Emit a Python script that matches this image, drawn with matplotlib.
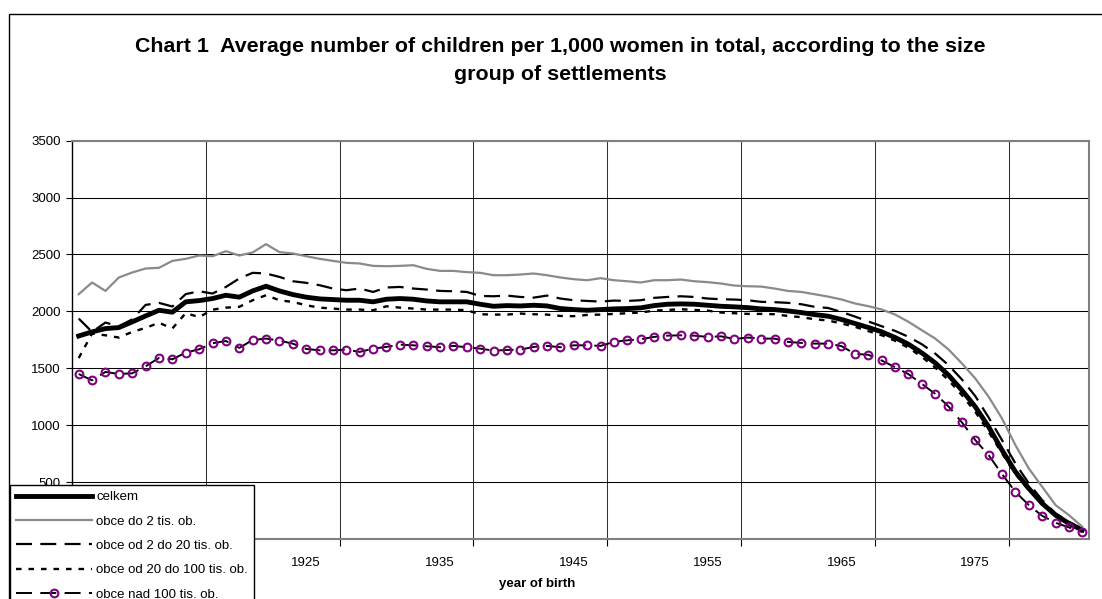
import matplotlib
matplotlib.use("Agg")
import matplotlib.pyplot as plt
from matplotlib.patches import Rectangle

plt.rcParams['font.family'] = ['Liberation Sans', 'DejaVu Sans']
plt.rcParams['lines.scale_dashes'] = False

years = list(range(1908, 1984))

celkem = [1784, 1820, 1849, 1858, 1908, 1960, 2010, 1993, 2084, 2095,
          2113, 2142, 2125, 2180, 2221, 2180, 2148, 2125, 2110, 2104,
          2098, 2098, 2084, 2107, 2113, 2107, 2092, 2084, 2084, 2084,
          2063, 2045, 2051, 2048, 2054, 2048, 2025, 2016, 2010, 2016,
          2022, 2025, 2031, 2051, 2063, 2066, 2063, 2054, 2045, 2040,
          2033, 2022, 2016, 2004, 1990, 1972, 1958, 1929, 1894, 1859,
          1821, 1771, 1712, 1636, 1548, 1440, 1308, 1162, 986, 781,
          591, 444, 313, 210, 137, 79]

do_2 = [2151, 2254, 2180, 2298, 2342, 2377, 2383, 2444, 2462, 2491,
        2485, 2529, 2491, 2518, 2591, 2521, 2509, 2485, 2462, 2444,
        2427, 2421, 2400, 2397, 2400, 2406, 2374, 2356, 2356, 2345,
        2339, 2318, 2318, 2324, 2333, 2318, 2298, 2283, 2274, 2292,
        2274, 2265, 2254, 2274, 2274, 2280, 2265, 2257, 2245, 2227,
        2221, 2218, 2201, 2180, 2171, 2151, 2130, 2105, 2070, 2046,
        2017, 1973, 1909, 1835, 1762, 1666, 1543, 1411, 1250, 1059,
        825, 620, 459, 298, 210, 108]

od_2_do_20 = [1937, 1820, 1902, 1869, 1930, 2057, 2075, 2043, 2152, 2177,
              2157, 2215, 2289, 2339, 2333, 2303, 2265, 2251, 2230, 2201,
              2186, 2201, 2171, 2210, 2215, 2201, 2192, 2180, 2177, 2171,
              2136, 2133, 2139, 2127, 2121, 2139, 2113, 2098, 2092, 2086,
              2095, 2092, 2098, 2119, 2127, 2133, 2127, 2113, 2107, 2104,
              2098, 2084, 2081, 2075, 2063, 2040, 2030, 1995, 1955, 1912,
              1870, 1829, 1777, 1712, 1630, 1528, 1402, 1256, 1068, 869,
              664, 489, 342, 225, 152, 84]

od_20_do_100 = [1590, 1805, 1790, 1770, 1820, 1855, 1900, 1850, 1985, 1950,
                2015, 2033, 2040, 2098, 2142, 2098, 2083, 2054, 2033, 2025,
                2016, 2016, 2010, 2045, 2033, 2025, 2016, 2016, 2016, 2010,
                1975, 1972, 1972, 1981, 1975, 1972, 1960, 1958, 1969, 1972,
                1978, 1984, 1990, 2007, 2013, 2019, 2013, 2007, 1990, 1984,
                1978, 1978, 1975, 1960, 1949, 1931, 1920, 1894, 1865, 1827,
                1791, 1742, 1681, 1601, 1507, 1396, 1264, 1118, 942, 752,
                570, 430, 307, 210, 137, 73]

nad_100 = [1450, 1394, 1468, 1450, 1456, 1517, 1591, 1579, 1638, 1667,
           1720, 1740, 1679, 1749, 1761, 1743, 1717, 1670, 1658, 1658,
           1664, 1644, 1673, 1688, 1708, 1702, 1694, 1685, 1697, 1685,
           1673, 1655, 1661, 1664, 1688, 1697, 1685, 1702, 1702, 1697,
           1732, 1746, 1755, 1776, 1787, 1790, 1787, 1776, 1781, 1758,
           1770, 1761, 1761, 1732, 1723, 1717, 1717, 1695, 1627, 1619,
           1569, 1510, 1449, 1364, 1276, 1165, 1025, 869, 737, 570,
           415, 298, 204, 143, 102, 61]

series_labels = ['celkem', 'obce do 2 tis. ob.', 'obce od 2 do 20 tis. ob.',
                 'obce od 20 do 100 tis. ob.', 'obce nad 100 tis. ob.']
tick_years = [1925, 1935, 1945, 1955, 1965, 1975]
y_ticks = [0, 500, 1000, 1500, 2000, 2500, 3000, 3500]
title_lines = ['Chart 1  Average number of children per 1,000 women in total, according to the size',
               'group of settlements']
x_label = 'year of birth'

W, H = 1102, 599
fig = plt.figure(figsize=(W / 100, H / 100), dpi=100)
fig.patch.set_facecolor('white')

# outer chart frame (only top/left visible)
fig.add_artist(Rectangle((9 / W, -0.1), 1.2, 1.1 - 14 / H, transform=fig.transFigure,
                         fill=False, edgecolor='black', linewidth=1.0))

ax = fig.add_axes([72 / W, 60 / H, 1017 / W, 398.3 / H])

long_dash = (11.5, 6.0)
short_dash = (4.0, 5.0)

ax.plot(years, celkem, color='black', lw=3.5, label=series_labels[0],
        solid_joinstyle='round', zorder=3)
ax.plot(years, do_2, color='#8a8a8a', lw=1.6, label=series_labels[1], zorder=3)
ax.plot(years, od_2_do_20, color='black', lw=1.6, dashes=long_dash,
        label=series_labels[2], zorder=3)
ax.plot(years, od_20_do_100, color='black', lw=1.7, dashes=short_dash,
        label=series_labels[3], zorder=3)
ax.plot(years, nad_100, color='black', lw=1.4, dashes=long_dash,
        marker='o', ms=5.6, mfc='none', mec='#800080', mew=1.5,
        label=series_labels[4], zorder=4)

ax.set_xlim(years[0] - 0.5, years[-1] + 0.5)
ax.set_ylim(y_ticks[0], y_ticks[-1])

ax.set_yticks(y_ticks)
ax.set_yticklabels([str(v) for v in y_ticks])
ax.tick_params(axis='y', length=4, width=0.8, direction='out', pad=4,
               labelsize=9.5, colors='black')

grid_x = [t + 2.5 for t in [tick_years[0] - 10] + tick_years]
ax.set_xticks(grid_x)
ax.set_xticklabels([''] * len(grid_x))
ax.set_xticks(tick_years, minor=True)
ax.set_xticklabels([str(t) for t in tick_years], minor=True)
ax.tick_params(axis='x', which='major', length=5, width=0.8, direction='out')
ax.tick_params(axis='x', which='minor', length=0, pad=13, labelsize=9.5)

ax.grid(axis='y', which='major', color='black', lw=0.75, zorder=1)
ax.grid(axis='x', which='major', color='#333333', lw=0.75, zorder=1)
ax.set_axisbelow(True)

for side in ['top', 'right', 'bottom']:
    ax.spines[side].set_color('#808080')
    ax.spines[side].set_linewidth(1.5)
ax.spines['left'].set_color('black')
ax.spines['left'].set_linewidth(1.0)

ax.set_xlabel(x_label, fontsize=9.5, fontweight='bold')
ax.xaxis.set_label_coords((537 - 72) / 1017, (539 - 578) / 398.3)

fig.text(560 / W, 1 - 46 / H, title_lines[0], ha='center', va='center',
         fontsize=15.4, fontweight='bold')
fig.text(560 / W, 1 - 74 / H, title_lines[1], ha='center', va='center',
         fontsize=15.4, fontweight='bold')

leg = ax.legend(loc='upper left', bbox_to_anchor=(10 / W, 1 - 485 / H),
                bbox_transform=fig.transFigure, frameon=True, fancybox=False,
                edgecolor='black', framealpha=1, fontsize=9.5, handlelength=5.8,
                handletextpad=0.3, borderpad=0.45, labelspacing=0.92,
                borderaxespad=0)
leg.get_frame().set_linewidth(1.0)
leg.set_zorder(10)

fig.savefig('out.png', dpi=100, facecolor='white')
